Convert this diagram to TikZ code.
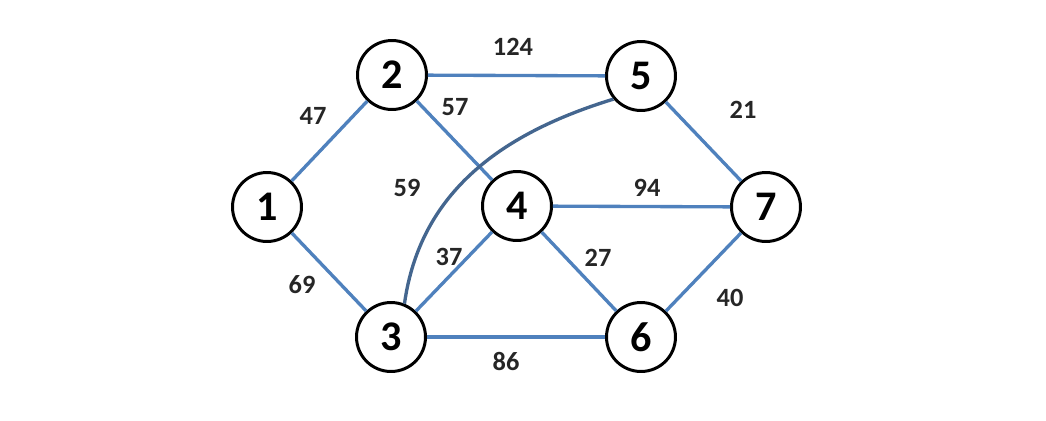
\documentclass[tikz,border=0pt]{standalone}
\usepackage{fontspec}
\setmainfont{Carlito}
\definecolor{edgeblue}{HTML}{4F81BD}
\definecolor{curveblue}{HTML}{44668F}
\begin{document}
\begin{tikzpicture}[x=0.02cm,y=-0.02cm,
    vertex/.style={circle,draw,line width=1.7pt,minimum size=1.38cm,inner sep=0pt,font=\fontsize{24}{24}\selectfont\bfseries},
    edge/.style={edgeblue,line width=1.9pt},
    wt/.style={font=\fontsize{15}{15}\selectfont\bfseries,text=black!85}]
  \useasboundingbox (0,0) rectangle (1046,420);
  % Vertices
  \node[vertex] (n1) at (267,207) {1};
  \node[vertex] (n2) at (392,75) {2};
  \node[vertex] (n3) at (391,337) {3};
  \node[vertex] (n4) at (517,206) {4};
  \node[vertex] (n5) at (641,76) {5};
  \node[vertex] (n6) at (641,337) {6};
  \node[vertex] (n7) at (766,207) {7};
  % Edges
  \draw[edge] (n1) -- (n2);
  \draw[edge] (n1) -- (n3);
  \draw[edge] (n2) -- (n5);
  \draw[edge] (n2) -- (n4);
  \draw[edge] (n3) -- (n4);
  \draw[edge] (n3) -- (n6);
  \draw[edge] (n4) -- (n7);
  \draw[edge] (n4) -- (n6);
  \draw[edge] (n5) -- (n7);
  \draw[edge] (n6) -- (n7);
  \draw[edge,curveblue] (n5.220) to[out=197,in=82] (n3.68);
  % Weights
  \node[wt] (w12) at (313,116) {47};
  \node[wt] (w13) at (302,285) {69};
  \node[wt] (w25) at (513,47) {124};
  \node[wt] (w24) at (455,107) {57};
  \node[wt] (w35) at (407,188) {59};
  \node[wt] (w34) at (449,257) {37};
  \node[wt] (w47) at (647,188) {94};
  \node[wt] (w46) at (598,258) {27};
  \node[wt] (w57) at (743,110) {21};
  \node[wt] (w67) at (730,298) {40};
  \node[wt] (w36) at (506,361) {86};
\end{tikzpicture}
\end{document}
